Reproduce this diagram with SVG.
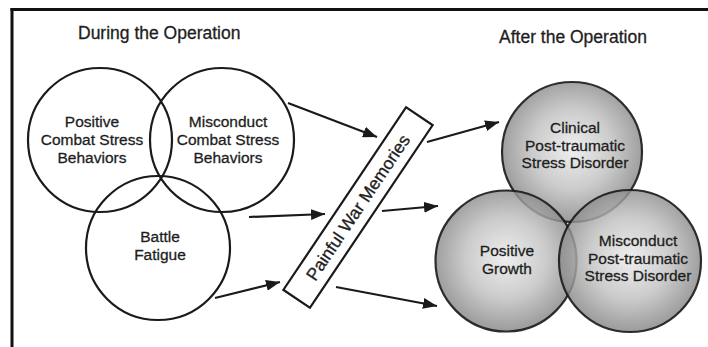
<svg xmlns="http://www.w3.org/2000/svg" width="708" height="347" viewBox="0 0 708 347">
  <style>
    .lbl { font-family: "Liberation Sans", Arial, sans-serif; font-size: 15.5px; fill: #1e1e1e; stroke: #1e1e1e; stroke-width: 0.3; text-anchor: middle; }
    .title { font-family: "Liberation Sans", Arial, sans-serif; font-size: 17.5px; fill: #1e1e1e; stroke: #1e1e1e; stroke-width: 0.3; }
    .ring { fill: none; stroke: #1a1a1a; stroke-width: 2.2; }
    .ball { fill: url(#shade); fill-opacity: 0.82; stroke: #1a1a1a; stroke-width: 2.2; stroke-opacity: 0.9; }
    .arrow { stroke: #1a1a1a; stroke-width: 2.2; fill: none; marker-end: url(#head); }
  </style>
  <defs>
    <radialGradient id="shade" cx="50%" cy="48%" r="52%">
      <stop offset="0" stop-color="#ebebeb"/>
      <stop offset="0.55" stop-color="#c0c0c0"/>
      <stop offset="1" stop-color="#858585"/>
    </radialGradient>
    <marker id="head" viewBox="0 0 14 11" refX="14" refY="5.5" markerWidth="14" markerHeight="11" markerUnits="userSpaceOnUse" orient="auto">
      <path d="M0,0 L14,5.5 L0,11 Z" fill="#1a1a1a"/>
    </marker>
  </defs>

  <rect width="708" height="347" fill="#ffffff"/>

  <!-- frame -->
  <g id="frame" stroke="#111" stroke-width="3" fill="none">
    <line x1="10.5" y1="9.5" x2="708" y2="9.5"/>
    <line x1="12" y1="8" x2="12" y2="347"/>
  </g>

  <!-- section headings -->
  <text class="title" x="78" y="39">During the Operation</text>
  <text class="title" x="499" y="43">After the Operation</text>

  <!-- during the operation -->
  <g id="positive-combat">
    <circle class="ring" cx="100" cy="140" r="72"/>
    <text class="lbl" x="92" y="127">Positive</text>
    <text class="lbl" x="92" y="145">Combat Stress</text>
    <text class="lbl" x="92" y="162.5">Behaviors</text>
  </g>
  <g id="misconduct-combat">
    <circle class="ring" cx="222" cy="140" r="72"/>
    <text class="lbl" x="228" y="127">Misconduct</text>
    <text class="lbl" x="228" y="145">Combat Stress</text>
    <text class="lbl" x="228" y="162.5">Behaviors</text>
  </g>
  <g id="battle-fatigue">
    <circle class="ring" cx="158" cy="248" r="72"/>
    <text class="lbl" x="160" y="242">Battle</text>
    <text class="lbl" x="160" y="259.5">Fatigue</text>
  </g>

  <!-- central bar -->
  <g id="painful-memories" transform="translate(358 207.5) rotate(-56.1)">
    <rect x="-110" y="-16" width="220" height="32" fill="#fff" stroke="#1a1a1a" stroke-width="2.2"/>
    <text class="lbl" x="0" y="6" style="font-size:17.5px">Painful War Memories</text>
  </g>

  <!-- after the operation -->
  <g id="clinical-ptsd">
    <circle class="ball" cx="572" cy="152" r="70"/>
    <text class="lbl" x="575" y="133">Clinical</text>
    <text class="lbl" x="575" y="150.5">Post-traumatic</text>
    <text class="lbl" x="575" y="168">Stress Disorder</text>
  </g>
  <g id="positive-growth">
    <circle class="ball" cx="506" cy="261" r="70.5"/>
    <text class="lbl" x="507" y="256">Positive</text>
    <text class="lbl" x="507" y="273.5">Growth</text>
  </g>
  <g id="misconduct-ptsd">
    <circle class="ball" cx="630" cy="261" r="71"/>
    <text class="lbl" x="638" y="246">Misconduct</text>
    <text class="lbl" x="638" y="263.5">Post-traumatic</text>
    <text class="lbl" x="638" y="281">Stress Disorder</text>
  </g>

  <!-- connectors -->
  <g id="connectors">
    <line class="arrow" x1="288" y1="103" x2="377" y2="137"/>
    <line class="arrow" x1="249" y1="217" x2="325" y2="214"/>
    <line class="arrow" x1="215" y1="298" x2="280" y2="282"/>
    <line class="arrow" x1="427" y1="142" x2="499" y2="122"/>
    <line class="arrow" x1="382" y1="211" x2="438" y2="206"/>
    <line class="arrow" x1="336" y1="287" x2="437" y2="306"/>
  </g>
</svg>
